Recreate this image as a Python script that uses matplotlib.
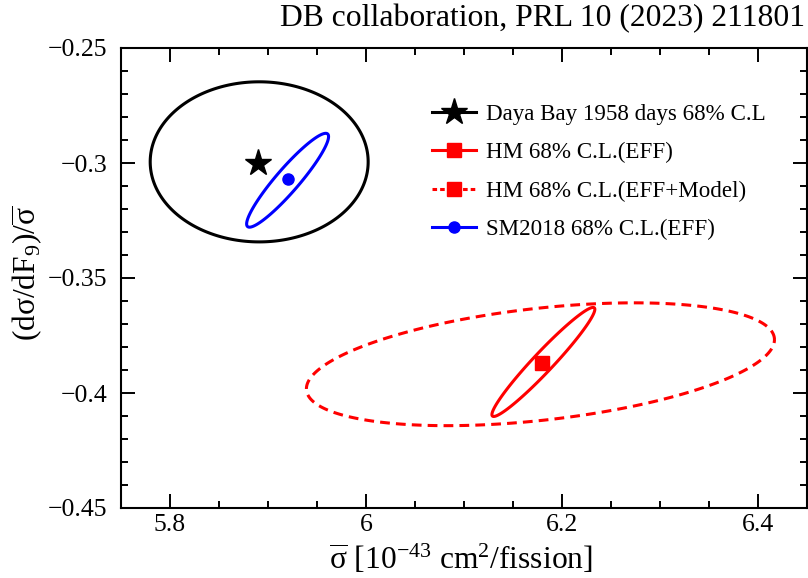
import numpy as np
import matplotlib
matplotlib.use("Agg")
import matplotlib.pyplot as plt
from matplotlib.lines import Line2D
from matplotlib.patches import Polygon
from matplotlib.ticker import MultipleLocator

plt.rcParams["font.family"] = ["Liberation Serif", "DejaVu Serif"]
plt.rcParams["mathtext.fontset"] = "custom"
plt.rcParams["mathtext.rm"] = "Liberation Serif"
plt.rcParams["mathtext.it"] = "Liberation Serif:italic"
plt.rcParams["mathtext.bf"] = "Liberation Serif:bold"

# best-fit points (sigma_bar, dsigma/dF9 / sigma_bar)
db_point = (5.89, -0.300)
hm_point = (6.18, -0.387)
sm_point = (5.92, -0.307)

# 68% C.L. contours: centre, half-width in x, half-width in y, correlation
db_contour = dict(cx=5.891, cy=-0.2995, sx=0.1112, sy=0.0348, rho=0.0)
hm_eff_contour = dict(cx=6.181, cy=-0.3865, sx=0.0525, sy=0.0237, rho=0.965)
hm_model_contour = dict(cx=6.178, cy=-0.3875, sx=0.2388, sy=0.0267, rho=0.40)
sm_contour = dict(cx=5.920, cy=-0.3075, sx=0.0418, sy=0.0204, rho=0.93)

labels = ["Daya Bay 1958 days 68% C.L", "HM 68% C.L.(EFF)",
          "HM 68% C.L.(EFF+Model)", "SM2018 68% C.L.(EFF)"]

xticks = [5.8, 6.0, 6.2, 6.4]
xtick_labels = ["5.8", "6", "6.2", "6.4"]
yticks = [-0.45, -0.4, -0.35, -0.3, -0.25]
ytick_labels = ["\u22120.45", "\u22120.4", "\u22120.35", "\u22120.3", "\u22120.25"]


def contour(c, n=400):
    t = np.linspace(0, 2 * np.pi, n, endpoint=False)
    x = c["cx"] + c["sx"] * np.cos(t)
    y = c["cy"] + c["sy"] * (c["rho"] * np.cos(t) + np.sqrt(1 - c["rho"] ** 2) * np.sin(t))
    return np.column_stack([x, y])


fig = plt.figure(figsize=(8.08, 5.78), dpi=100)
ax = fig.add_axes([121 / 808, 70 / 578, 686 / 808, 460 / 578])

lw = 2.2
ax.add_patch(Polygon(contour(db_contour), closed=True, fill=False, ec="black", lw=lw))
ax.add_patch(Polygon(contour(hm_eff_contour), closed=True, fill=False, ec="red", lw=lw))
ax.add_patch(Polygon(contour(hm_model_contour), closed=True, fill=False, ec="red", lw=lw,
                     ls=(0, (3.2, 2.0))))
ax.add_patch(Polygon(contour(sm_contour), closed=True, fill=False, ec="blue", lw=lw))

ax.plot(*db_point, marker="*", color="black", ms=20, ls="none", zorder=5)
ax.plot(*hm_point, marker="s", color="red", ms=9.4, ls="none", zorder=5)
ax.plot(*sm_point, marker="o", color="blue", ms=8, ls="none", zorder=5)

ax.set_xlim(5.75, 6.45)
ax.set_ylim(-0.45, -0.25)
ax.set_xticks(xticks)
ax.set_xticklabels(xtick_labels)
ax.set_yticks(yticks)
ax.set_yticklabels(ytick_labels)
ax.xaxis.set_minor_locator(MultipleLocator(0.05))
ax.yaxis.set_minor_locator(MultipleLocator(0.01))
ax.tick_params(which="both", direction="in", top=True, right=True, width=1.4, labelsize=18.5)
ax.tick_params(which="major", length=10)
ax.tick_params(which="minor", length=5)
ax.tick_params(axis="x", pad=4)
ax.tick_params(axis="y", pad=10)
for s in ax.spines.values():
    s.set_linewidth(1.5)

ax.set_xlabel(r"$\overline{\mathrm{\sigma}}$ [10$^{\mathrm{-43}}$ cm$^{\mathrm{2}}$/fission]", fontsize=22.7)
ax.xaxis.set_label_coords(0.496, -0.075, transform=ax.transAxes)
ax.xaxis.label.set_va("top")
ax.set_ylabel(r"(d$\mathrm{\sigma}$/dF$_{\mathrm{9}}$)/$\overline{\mathrm{\sigma}}$", fontsize=22.7)
ax.yaxis.set_label_coords(-0.137, 0.51, transform=ax.transAxes)
ax.yaxis.label.set_va("center")

fig.text(805 / 808, 1 - 4 / 578, "DB collaboration, PRL 10 (2023) 211801",
         ha="right", va="top", fontsize=22.8)

handles = [
    Line2D([], [], color="black", lw=lw, marker="*", ms=20),
    Line2D([], [], color="red", lw=lw, marker="s", ms=9.4),
    Line2D([], [], color="red", lw=lw, marker="s", ms=9.4, dashes=(1.5, 1.0)),
    Line2D([], [], color="blue", lw=lw, marker="o", ms=8),
]
ax.legend(handles, labels, loc="upper left", bbox_to_anchor=(0.453, 0.879),
          frameon=False, fontsize=16.6, numpoints=1, handlelength=1.9,
          handletextpad=0.45, labelspacing=0.75, borderpad=0, borderaxespad=0)

fig.savefig("out.png", dpi=100)
